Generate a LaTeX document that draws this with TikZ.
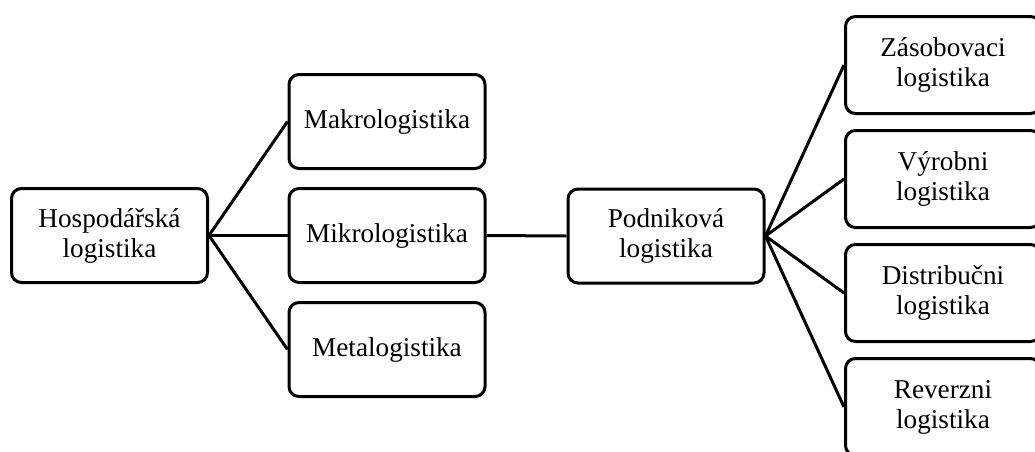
\documentclass[tikz,border=0pt]{standalone}
\usepackage{fontspec}
\setmainfont{Liberation Serif}
\tikzset{
    box/.style={draw, line width=1.5pt, rounded corners=5pt, align=center,
                minimum width=98pt, minimum height=47pt, inner sep=0pt,
                font=\fontsize{13.6}{15}\selectfont},
    sidebox/.style={box, minimum width=97.5pt, minimum height=48.5pt},
    link/.style={line width=1.5pt}
}
\begin{document}
\begin{tikzpicture}[x=0.5pt, y=-0.5pt]
    \clip (0,0) rectangle (1035,451);
    \fill[white] (0,0) rectangle (1035,451);

    \node[box] (hosp)   at (109.5,235.5)    {Hospodářská\\logistika};
    \node[box] (makro)  at (387,121.5)      {Makrologistika};
    \node[box] (mikro)  at (387,235.5)      {Mikrologistika};
    \node[box] (meta)   at (387,349.5)      {Metalogistika};
    \node[box] (podnik) at (666,236)        {Podniková\\logistika};

    \node[sidebox] (zasob)   at (943,65)    {Zásobovaci\\logistika};
    \node[sidebox] (vyrob)   at (943,179)   {Výrobni\\logistika};
    \node[sidebox] (distrib) at (943,293)   {Distribučni\\logistika};
    \node[sidebox] (revers)  at (943,407)   {Reverzni\\logistika};

    \draw[link] (hosp.east) -- (makro.west);
    \draw[link] (hosp.east) -- (mikro.west);
    \draw[link] (hosp.east) -- (meta.west);
    \draw[link] (mikro.east) -- (podnik.west);

    \draw[link] (podnik.east) -- (zasob.west);
    \draw[link] (podnik.east) -- (vyrob.west);
    \draw[link] (podnik.east) -- (distrib.west);
    \draw[link] (podnik.east) -- (revers.west);

\end{tikzpicture}
\end{document}
